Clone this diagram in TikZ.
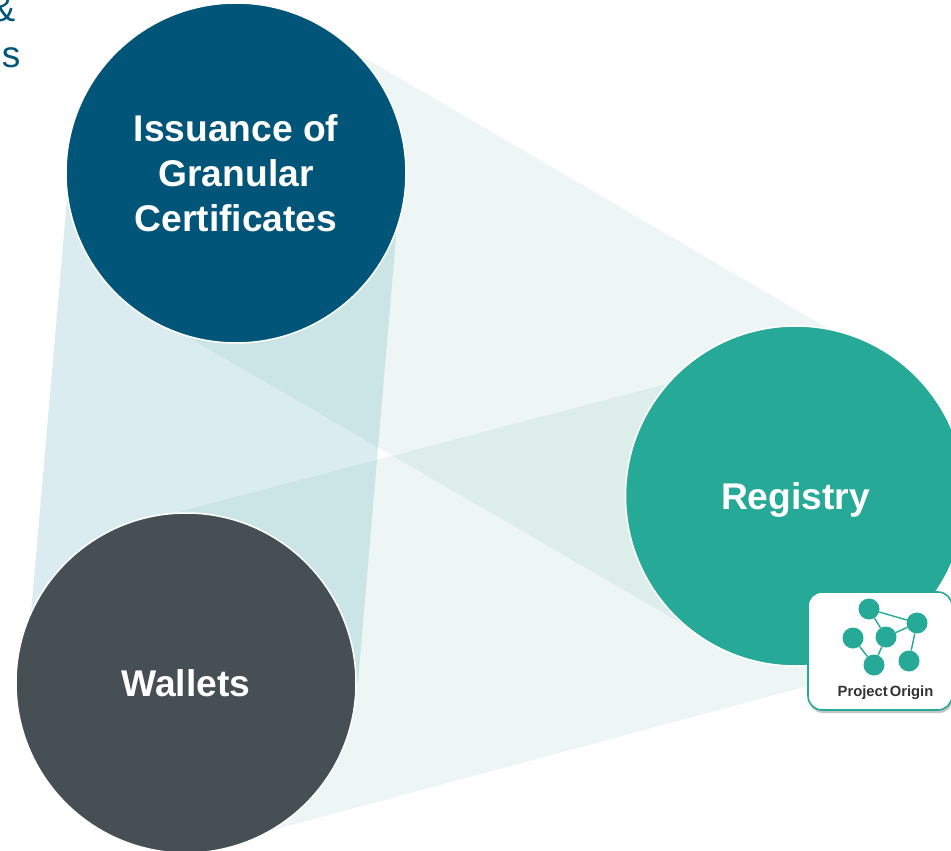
\documentclass[tikz,border=0pt]{standalone}
\usepackage{fontspec}
\setmainfont{Liberation Sans}
\usepackage{xcolor}
\usetikzlibrary{shadows}
\definecolor{petrol}{HTML}{005578}
\definecolor{bandBlue}{HTML}{007A96}
\definecolor{bandGreen}{HTML}{008070}
\definecolor{teal}{HTML}{26AA97}
\definecolor{slate}{HTML}{454F54}
\tikzset{
	bigCircle/.style={circle,draw=white,line width=1.5,minimum size=340,inner sep=0,text=white,align=center,font=\bfseries\fontsize{37.2}{45}\selectfont},
	dot/.style={circle,fill=teal,minimum size=21,inner sep=0},
	link/.style={teal,line width=1.4},
	cutText/.style={anchor=base east,inner sep=0,text=petrol,font=\fontsize{37}{45}\selectfont}
}
\begin{document}
\begin{tikzpicture}[x=1pt,y=-1pt]
		\useasboundingbox (0,0) rectangle (951,851);
		\fill[white] (0,0) rectangle (951,851);

		% bands between the circles
		\fill[bandGreen,opacity=0.07] (320,31.6) -- (880,359) -- (710,640) -- (150,315) -- cycle;
		\fill[bandGreen,opacity=0.07] (140,522) -- (750,362) -- (830,680) -- (230,841.6) -- cycle;
		\fill[bandBlue,opacity=0.14] (69.3,173) -- (401.5,173) -- (358,682) -- (25,682) -- cycle;

		\node[bigCircle,fill=petrol] (issuance) at (236,173) {Issuance of\\Granular\\Certificates};
		\node[bigCircle,fill=slate] (wallets) at (186,683) {Wallets};
		\node[bigCircle,fill=teal,text depth=0] (registry) at (795.5,496) {Registry};

		\node[cutText] (amp) at (15.5,21.5) {\&};
		\node[cutText] (ess) at (20.5,67) {s};

		\node[draw=teal,line width=1.6,fill=white,rounded corners=14,minimum width=144,minimum height=118,drop shadow={shadow xshift=1pt,shadow yshift=-3pt,opacity=0.45}] (badge) at (880,651) {};
		\node[dot] (a) at (869,609) {};
		\node[dot] (b) at (917,623) {};
		\node[dot] (c) at (886,637) {};
		\node[dot] (d) at (853,638) {};
		\node[dot] (e) at (874,665) {};
		\node[dot] (f) at (909,661) {};
		\foreach \from/\to in {a/b,a/c,b/c,d/e,c/e,b/f}{
			\draw[link] (\from) -- (\to);
		}
		\node[inner sep=0,text=black!80,font=\bfseries\fontsize{14.8}{16}\selectfont] (origin) at (885.5,692.5) {\spaceskip=2pt Project Origin};
	\end{tikzpicture}
\end{document}
